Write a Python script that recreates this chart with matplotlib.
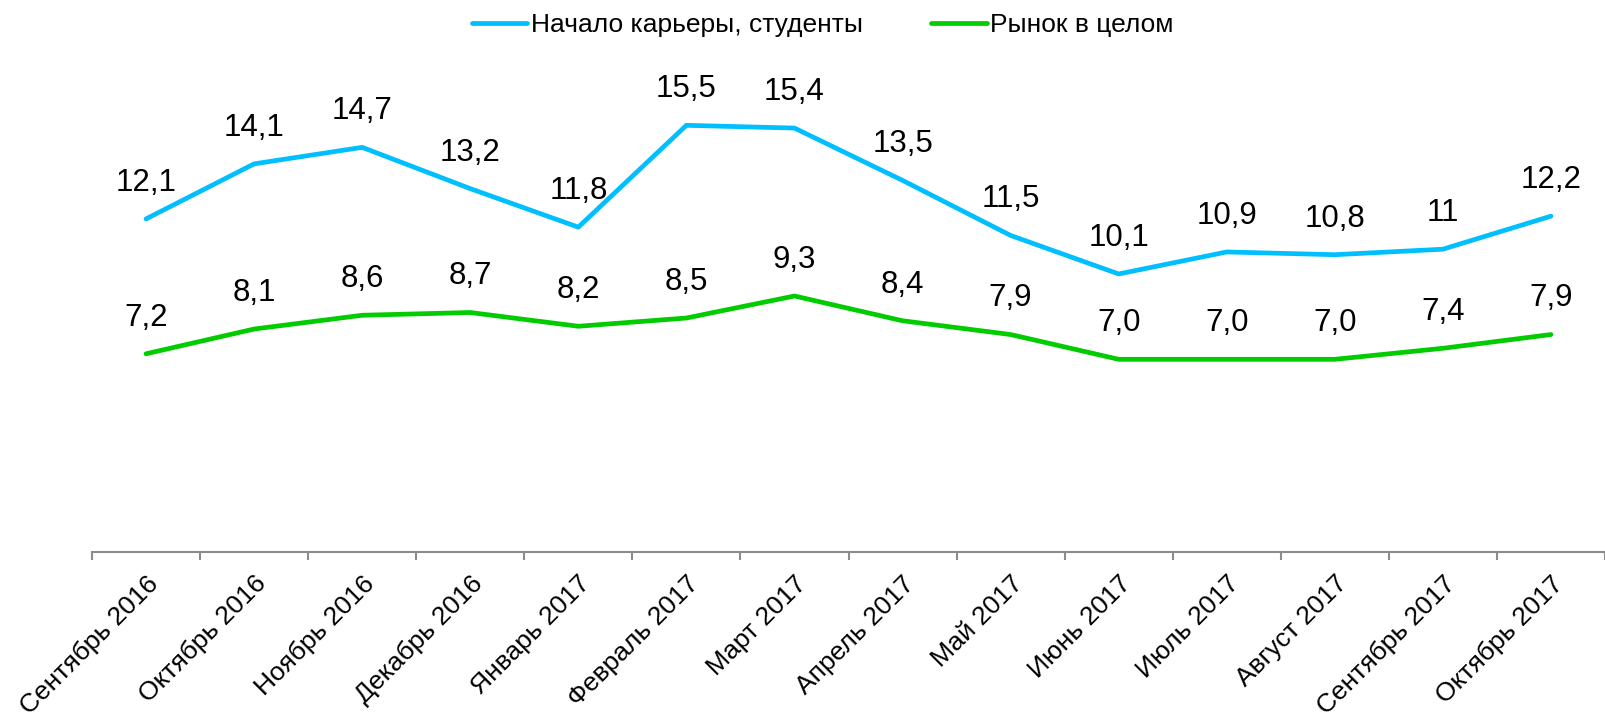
import matplotlib
matplotlib.use("Agg")
import matplotlib.pyplot as plt

plt.rcParams['font.family'] = ['Liberation Sans', 'DejaVu Sans']

months = ["Сентябрь 2016", "Октябрь 2016", "Ноябрь 2016", "Декабрь 2016",
          "Январь 2017", "Февраль 2017", "Март 2017", "Апрель 2017",
          "Май 2017", "Июнь 2017", "Июль 2017", "Август 2017",
          "Сентябрь 2017", "Октябрь 2017"]

students = [12.1, 14.1, 14.7, 13.2, 11.8, 15.5, 15.4, 13.5, 11.5, 10.1, 10.9, 10.8, 11.0, 12.2]
students_labels = ["12,1", "14,1", "14,7", "13,2", "11,8", "15,5", "15,4", "13,5",
                   "11,5", "10,1", "10,9", "10,8", "11", "12,2"]

market = [7.2, 8.1, 8.6, 8.7, 8.2, 8.5, 9.3, 8.4, 7.9, 7.0, 7.0, 7.0, 7.4, 7.9]
market_labels = ["7,2", "8,1", "8,6", "8,7", "8,2", "8,5", "9,3", "8,4",
                 "7,9", "7,0", "7,0", "7,0", "7,4", "7,9"]

blue = "#00BFFF"
green = "#00CC00"

fig = plt.figure(figsize=(16.05, 7.13), dpi=100)
ax = fig.add_axes([92 / 1605, 1 - 552 / 713, 1 - 92 / 1605, (552 - 56.5) / 713])

x = list(range(len(months)))
ax.plot(x, students, color=blue, lw=3.4, solid_capstyle='round', label="Начало карьеры, студенты")
ax.plot(x, market, color=green, lw=3.4, solid_capstyle='round', label="Рынок в целом")

# value labels above each point
for xi, v, s in zip(x, students, students_labels):
    ax.annotate(s, (xi, v), xytext=(0, 26), textcoords='offset points',
                ha='center', va='center', fontsize=22.5)
for xi, v, s in zip(x, market, market_labels):
    ax.annotate(s, (xi, v), xytext=(0, 26), textcoords='offset points',
                ha='center', va='center', fontsize=22.5)

ax.set_xlim(-0.5, 13 + (1605 - 1558) / 108.6)
ax.set_ylim(0, 18)

for side in ['top', 'right', 'left']:
    ax.spines[side].set_visible(False)
ax.spines['bottom'].set_color('#8c8c8c')
ax.spines['bottom'].set_linewidth(1.5)
ax.set_yticks([])

# ticks between categories, labels at category centres
ax.set_xticks([i - 0.5 for i in range(len(months) + 1)])
ax.set_xticklabels([])
ax.tick_params(axis='x', which='major', length=6, width=1.5, color='#8c8c8c', direction='out')
ax.set_xticks(x, minor=True)
ax.set_xticklabels(months, minor=True, rotation=45, ha='right', rotation_mode='anchor', fontsize=19)
ax.tick_params(axis='x', which='minor', length=0, pad=14)

fig.legend(loc='center', bbox_to_anchor=(0.5125, 1 - 25 / 713), ncol=2, frameon=False,
           fontsize=19, handlelength=2.1, handletextpad=0.12, columnspacing=2.6)

fig.savefig("out.png", dpi=100)
